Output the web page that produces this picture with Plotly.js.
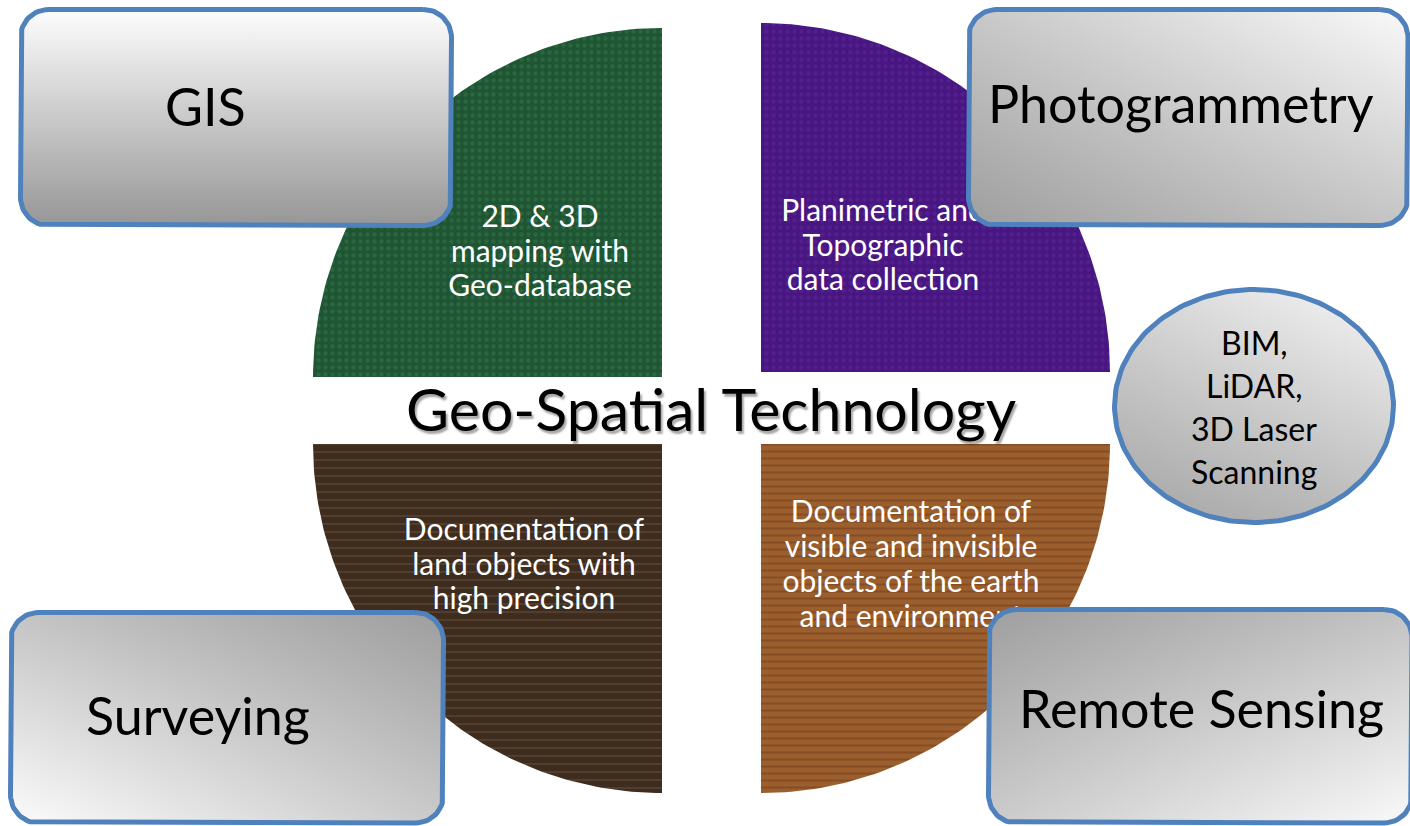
<!DOCTYPE html>
<html>
<head>
<meta charset="utf-8">
<script src="https://cdn.plot.ly/plotly-3.0.1.min.js"></script>
<style>
html, body { margin: 0; padding: 0; background: #ffffff; overflow: hidden; }
#chart { width: 1410px; height: 826px; }
</style>
</head>
<body>
<div id="chart"></div>
<script>
// ---------------- content ----------------
const centerTitle = 'Geo-Spatial Technology';
const quadrantNames = ['GIS', 'Photogrammetry', 'Surveying', 'Remote Sensing'];
const quadrantDescriptions = [
  ['2D & 3D', 'mapping with', 'Geo-database'],
  ['Planimetric and', 'Topographic', 'data collection'],
  ['Documentation of', 'land objects with', 'high precision'],
  ['Documentation of', 'visible and invisible', 'objects of the earth', 'and environment']
];
const extraTechLines = ['BIM,', 'LiDAR,', '3D Laser', 'Scanning'];

// ---------------- layout geometry & styles ----------------
const FONT = 'Lato, Calibri, Carlito, "Open Sans", sans-serif';
const BORDER = '#4f81bd';

// quarter discs: centre, start/end angle (screen coords, y down)
const quarters = [
  { cx: 662, cy: 377, a0: Math.PI, a1: 1.5 * Math.PI, color: '#1f5533', fg: '#3f8a5c', shape: '.', size: 7, sol: 0.3, op: 0.35 },
  { cx: 761, cy: 372, a0: 1.5 * Math.PI, a1: 2 * Math.PI, color: '#471680', fg: '#6630a6', shape: '.', size: 7, sol: 0.3, op: 0.35 },
  { cx: 662, cy: 444, a0: 0.5 * Math.PI, a1: Math.PI, color: '#3e2d1f', fg: '#5f4834', shape: '-', size: 8, sol: 0.25, op: 0.6 },
  { cx: 761, cy: 444, a0: 0, a1: 0.5 * Math.PI, color: '#9b5f2d', fg: '#6a351c', shape: '-', size: 7, sol: 0.3, op: 0.45 }
];
const RADIUS = 349;

// description text blocks (centre x, centre y, line spacing)
const descPos = [
  { x: 540, y: 254, dy: 34.5 },
  { x: 883, y: 248, dy: 34.5 },
  { x: 524, y: 567, dy: 34.5 },
  { x: 911, y: 567, dy: 34.7 }
];

// label boxes (line-centre rectangle) and gradient settings
// note: for vertical gradients, colorscale position 0 is the bottom of the box here
const boxes = [
  { x0: 20.5, y0: 9.5, x1: 451.5, y1: 225.5, lx: 205, ly: 106,
    base: { type: 'vertical', cs: [[0, 'rgb(150,150,150)'], [1, 'rgb(253,253,253)']] }, over: null },
  { x0: 968.5, y0: 9.5, x1: 1408, y1: 225.5, lx: 1181, ly: 103,
    base: { type: 'horizontal', cs: [[0, 'rgb(200,200,200)'], [1, 'rgb(249,249,249)']] },
    over: { type: 'vertical', cs: [[0, 'rgba(0,0,0,0.21)'], [1, 'rgba(0,0,0,0)']] } },
  { x0: 10.5, y0: 612.5, x1: 443.5, y1: 823, lx: 198, ly: 715,
    base: { type: 'horizontal', cs: [[0, 'rgb(251,251,251)'], [1, 'rgb(202,202,202)']] },
    over: { type: 'vertical', cs: [[0, 'rgba(0,0,0,0)'], [1, 'rgba(0,0,0,0.22)']] } },
  { x0: 988.5, y0: 609.5, x1: 1412, y1: 823, lx: 1201, ly: 708,
    base: { type: 'horizontal', cs: [[0, 'rgb(203,203,203)'], [1, 'rgb(249,249,249)']] },
    over: { type: 'vertical', cs: [[0, 'rgba(0,0,0,0)'], [1, 'rgba(0,0,0,0.22)']] } }
];
const BOX_R = 28;

const ell = { cx: 1254, cy: 406, rx: 139.5, ry: 116.5, ty: 406.5, dy: 43,
  base: { type: 'horizontal', cs: [[0, 'rgb(214,214,214)'], [1, 'rgb(246,246,246)']] },
  over: { type: 'vertical', cs: [[0, 'rgba(0,0,0,0.24)'], [1, 'rgba(0,0,0,0)']] } };

// ---------------- geometry helpers ----------------
function quarterPath(q) {
  const xs = [q.cx], ys = [q.cy];
  const n = 90;
  for (let i = 0; i <= n; i++) {
    const a = q.a0 + (q.a1 - q.a0) * i / n;
    xs.push(q.cx + RADIUS * Math.cos(a));
    ys.push(q.cy + RADIUS * Math.sin(a));
  }
  xs.push(q.cx); ys.push(q.cy);
  return { xs, ys };
}
function roundRect(b, r) {
  const xs = [], ys = [];
  const corners = [
    [b.x1 - r, b.y0 + r, -0.5 * Math.PI, 0],
    [b.x1 - r, b.y1 - r, 0, 0.5 * Math.PI],
    [b.x0 + r, b.y1 - r, 0.5 * Math.PI, Math.PI],
    [b.x0 + r, b.y0 + r, Math.PI, 1.5 * Math.PI]
  ];
  corners.forEach(c => {
    for (let i = 0; i <= 16; i++) {
      const a = c[2] + (c[3] - c[2]) * i / 16;
      xs.push(c[0] + r * Math.cos(a));
      ys.push(c[1] + r * Math.sin(a));
    }
  });
  xs.push(xs[0]); ys.push(ys[0]);
  return { xs, ys };
}
function ellipsePath(e) {
  const xs = [], ys = [];
  for (let i = 0; i <= 180; i++) {
    const a = 2 * Math.PI * i / 180;
    xs.push(e.cx + e.rx * Math.cos(a));
    ys.push(e.cy + e.ry * Math.sin(a));
  }
  return { xs, ys };
}
function lineYs(cy, dy, n) {
  const out = [];
  for (let i = 0; i < n; i++) out.push(cy + (i - (n - 1) / 2) * dy);
  return out;
}

// ---------------- traces ----------------
const traces = [];

// quarter discs
quarters.forEach(q => {
  const p = quarterPath(q);
  traces.push({
    type: 'scatter', mode: 'lines', x: p.xs, y: p.ys, fill: 'toself',
    fillcolor: q.color,
    fillpattern: { shape: q.shape, bgcolor: q.color, fgcolor: q.fg, fgopacity: q.op, size: q.size, solidity: q.sol },
    line: { width: 0, color: q.color }, hoverinfo: 'skip'
  });
});

// descriptions inside quarters (white)
quadrantDescriptions.forEach((lines, i) => {
  const pos = descPos[i];
  traces.push({
    type: 'scatter', mode: 'text',
    x: lines.map(() => pos.x), y: lineYs(pos.y, pos.dy, lines.length),
    text: lines, textposition: 'middle center',
    textfont: { family: FONT, size: 30, color: '#ffffff' }, hoverinfo: 'skip'
  });
});

// label boxes
function gradientShape(xs, ys, g, withLine) {
  return {
    type: 'scatter', mode: 'lines', x: xs, y: ys, fill: 'toself',
    fillgradient: { type: g.type, colorscale: g.cs },
    line: withLine ? { width: 5, color: BORDER } : { width: 0, color: 'rgba(0,0,0,0)' },
    hoverinfo: 'skip'
  };
}
boxes.forEach(b => {
  const p = roundRect(b, BOX_R);
  traces.push(gradientShape(p.xs, p.ys, b.base, !b.over));
  if (b.over) traces.push(gradientShape(p.xs, p.ys, b.over, true));
});

// ellipse
const ep = ellipsePath(ell);
traces.push(gradientShape(ep.xs, ep.ys, ell.base, false));
traces.push(gradientShape(ep.xs, ep.ys, ell.over, true));

// ---------------- annotations ----------------
const annotations = [];
quadrantNames.forEach((name, i) => {
  annotations.push({
    x: boxes[i].lx, y: boxes[i].ly, xref: 'x', yref: 'y', text: name, showarrow: false,
    font: { family: FONT, size: 52, color: '#000000' }, xanchor: 'center', yanchor: 'middle'
  });
});
lineYs(ell.ty, ell.dy, extraTechLines.length).forEach((y, i) => {
  annotations.push({
    x: ell.cx, y: y, xref: 'x', yref: 'y', text: extraTechLines[i], showarrow: false,
    font: { family: FONT, size: 32, color: '#000000' }, xanchor: 'center', yanchor: 'middle'
  });
});
annotations.push({
  x: 711, y: 408, xref: 'x', yref: 'y', text: centerTitle, showarrow: false,
  font: { family: FONT, size: 59, color: '#000000', shadow: '2px 3px 2px rgba(0,0,0,0.35)' },
  xanchor: 'center', yanchor: 'middle'
});

const layout = {
  width: 1410, height: 826,
  margin: { l: 0, r: 0, t: 0, b: 0, pad: 0 },
  paper_bgcolor: '#ffffff', plot_bgcolor: '#ffffff',
  showlegend: false, hovermode: false,
  xaxis: { range: [0, 1410], visible: false, fixedrange: true },
  yaxis: { range: [826, 0], visible: false, fixedrange: true },
  annotations: annotations
};

Plotly.newPlot('chart', traces, layout, { displayModeBar: false, staticPlot: true });
</script>
</body>
</html>
